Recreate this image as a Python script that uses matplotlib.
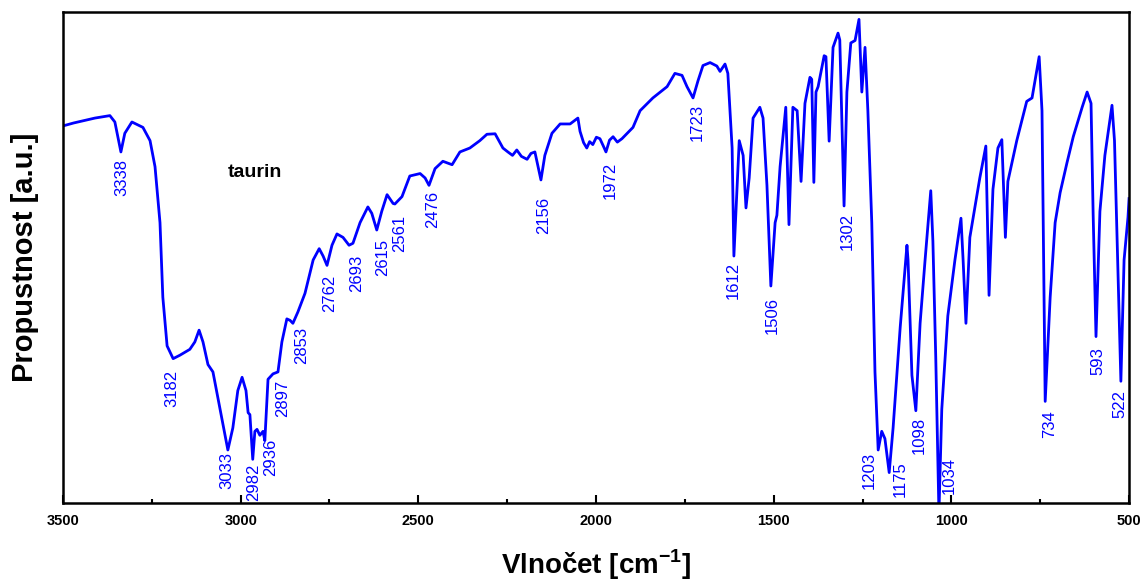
import matplotlib.pyplot as plt
from matplotlib.ticker import MultipleLocator

plt.rcParams['font.family'] = ['Liberation Sans', 'DejaVu Sans']

# wavenumber [cm-1] and transmittance [a.u.]
wn = [3500, 3470, 3440, 3410, 3385, 3368, 3354, 3337, 3326, 3306, 3275, 3255, 3241,
      3227, 3219, 3207,
      3190, 3171, 3143, 3129, 3117, 3106, 3092, 3078, 3058, 3036, 3022, 3008,
      2996, 2985, 2979, 2974, 2966, 2960, 2954, 2946, 2937, 2932, 2923, 2909,
      2895, 2884, 2870, 2861, 2853, 2839, 2819, 2796, 2779, 2768, 2757, 2743,
      2729, 2712, 2695, 2684, 2664, 2642, 2631, 2617, 2603, 2588, 2571,
      2566, 2546, 2524, 2495, 2481, 2470, 2453, 2431, 2405, 2383, 2355, 2327,
      2307, 2284, 2262, 2248, 2235, 2223, 2210, 2194, 2183, 2172, 2155, 2144,
      2124, 2101, 2073, 2051, 2045, 2035, 2026, 2018, 2009, 1999, 1989, 1980,
      1972, 1962, 1952, 1940, 1927, 1896, 1876, 1840, 1800,
      1778, 1758, 1744, 1727, 1713, 1699, 1679, 1660, 1651, 1637, 1629, 1617,
      1612, 1603, 1597, 1586, 1578, 1569, 1558, 1539, 1530, 1519, 1508, 1496,
      1491, 1482, 1466, 1457, 1446, 1434, 1423, 1412, 1398, 1393, 1387, 1381,
      1375, 1358, 1353, 1344, 1333, 1319, 1314, 1302, 1294, 1283, 1271, 1260,
      1252, 1243, 1235, 1224, 1215, 1206, 1196, 1187, 1175, 1164, 1144, 1125,
      1122, 1111, 1100, 1088, 1074, 1058, 1052, 1044, 1041, 1035, 1027, 1010,
      990, 973, 967, 959, 948, 920, 903, 894, 883, 869, 858, 848, 841, 816,
      788, 773, 753, 745, 736, 722, 708, 694, 675, 657, 632, 618, 607, 601,
      593, 582, 568, 548, 541, 532, 523, 514, 503, 500]
transm = [76.8, 77.4, 77.9, 78.4, 78.7, 78.9, 77.6, 71.5, 75.3, 77.6, 76.5, 73.8, 68.5,
          57.1, 41.9, 32.0,
          29.4, 30.1, 31.3, 32.8, 35.2, 32.8, 28.2, 26.7, 19.1, 10.8, 15.3, 22.9,
          25.6, 22.9, 18.4, 18.0, 8.9, 14.6, 15.0, 13.8, 14.6, 12.7, 25.2, 26.3,
          26.7, 32.8, 37.5, 37.2, 36.6, 38.9, 42.7, 49.5, 51.8, 50.3, 48.4, 52.5,
          54.8, 54.1, 52.5, 52.9, 57.1, 60.3, 59.0, 55.6, 59.4, 62.8, 61.0,
          60.9, 62.4, 66.6, 67.1, 66.2, 64.7, 68.1, 69.6, 68.9, 71.5, 72.3, 73.8,
          75.1, 75.2, 72.3, 71.5, 70.8, 71.9, 70.6, 70.0, 71.2, 71.5, 65.8, 70.8,
          75.3, 77.2, 77.2, 78.4, 75.7, 73.4, 72.3, 73.6, 73.0, 74.5, 74.2, 72.8,
          71.5, 73.9, 74.6, 73.5, 74.2, 76.5, 79.9, 82.5, 84.8,
          87.5, 87.1, 84.8, 82.5, 86.0, 89.1, 89.7, 89.0, 87.9, 89.4, 87.5, 72.3,
          50.3, 64.7, 73.8, 70.8, 60.1, 66.2, 78.4, 80.6, 78.4, 64.7, 44.2, 57.1,
          58.6, 68.5, 80.6, 56.7, 80.6, 79.9, 65.5, 81.4, 86.7, 86.3, 65.3, 83.7,
          84.8, 91.1, 90.9, 73.7, 92.8, 95.7, 94.3, 60.5, 83.7, 93.7, 94.2, 98.5,
          83.7, 92.8, 79.9, 57.1, 26.7, 10.8, 14.6, 13.1, 6.2, 15.3, 35.8, 52.5,
          49.5, 26.0, 18.8, 36.6, 49.5, 63.6, 53.3, 29.8, 19.1, -2.0, 19.1, 38.1,
          49.5, 58.0, 49.5, 36.6, 54.1, 66.2, 72.7, 42.3, 63.9, 72.3, 74.0, 54.1, 65.5, 73.8,
          81.8, 82.5, 90.9, 79.9, 20.7, 41.9, 57.1, 63.2, 69.2, 74.6, 80.6, 83.7, 81.4, 58.6,
          33.9, 59.4, 70.8, 81.0, 73.8, 49.5, 24.8, 49.5, 58.2, 62.0]

peak_labels = ["3338", "3182", "3033", "2982", "2936", "2897", "2853", "2762",
               "2693", "2615", "2561", "2476", "2156", "1972", "1723", "1612",
               "1506", "1302", "1203", "1175", "1098", "1034", "734", "593", "522"]
# where each label sits (x centre, top of the text) in data coordinates
label_pos = [(3334, 70.0), (3194, 27.1), (3039, 10.4), (2964, 8.1), (2916, 13.1),
             (2882, 25.2), (2828, 35.8), (2751, 46.5), (2674, 50.6), (2600, 53.7),
             (2552, 58.6), (2460, 63.6), (2148, 62.4), (1961, 69.6), (1715, 81.2),
             (1614, 49.1), (1504, 41.9), (1293, 59.0), (1231, 10.4), (1145, 8.5),
             (1090, 17.6), (1006, 9.3), (723, 18.8), (589, 31.7), (526, 23.1)]

fig = plt.figure(figsize=(11.43, 5.83), dpi=100)
ax = fig.add_axes([0.0551, 0.1372, 0.9327, 0.8422])

ax.plot(wn, transm, color="#0000ff", lw=2)

for txt, (x, y) in zip(peak_labels, label_pos):
    ax.text(x, y, txt, rotation=90, ha="center", va="top",
            color="#0000ff", fontsize=12)

ax.text(2960, 67.4, "taurin", fontsize=14, fontweight="bold", ha="center", va="center")

ax.set_xlim(3500, 500)
ax.set_ylim(0, 100)
ax.xaxis.set_major_locator(MultipleLocator(500))
ax.xaxis.set_minor_locator(MultipleLocator(250))
ax.tick_params(axis="x", which="both", direction="in", top=False, width=1.5)
ax.tick_params(axis="x", which="major", length=6, labelsize=10.5, pad=8)
ax.tick_params(axis="x", which="minor", length=3)
ax.set_yticks([])
for lab in ax.get_xticklabels():
    lab.set_fontweight("bold")
for s in ax.spines.values():
    s.set_linewidth(1.8)

ax.set_xlabel("Vlnočet [cm$^{\\mathregular{-1}}$]", fontsize=20, fontweight="bold", labelpad=14)
ax.set_ylabel("Propustnost [a.u.]", fontsize=21, fontweight="bold", labelpad=17)

fig.savefig("out.png", dpi=100)
